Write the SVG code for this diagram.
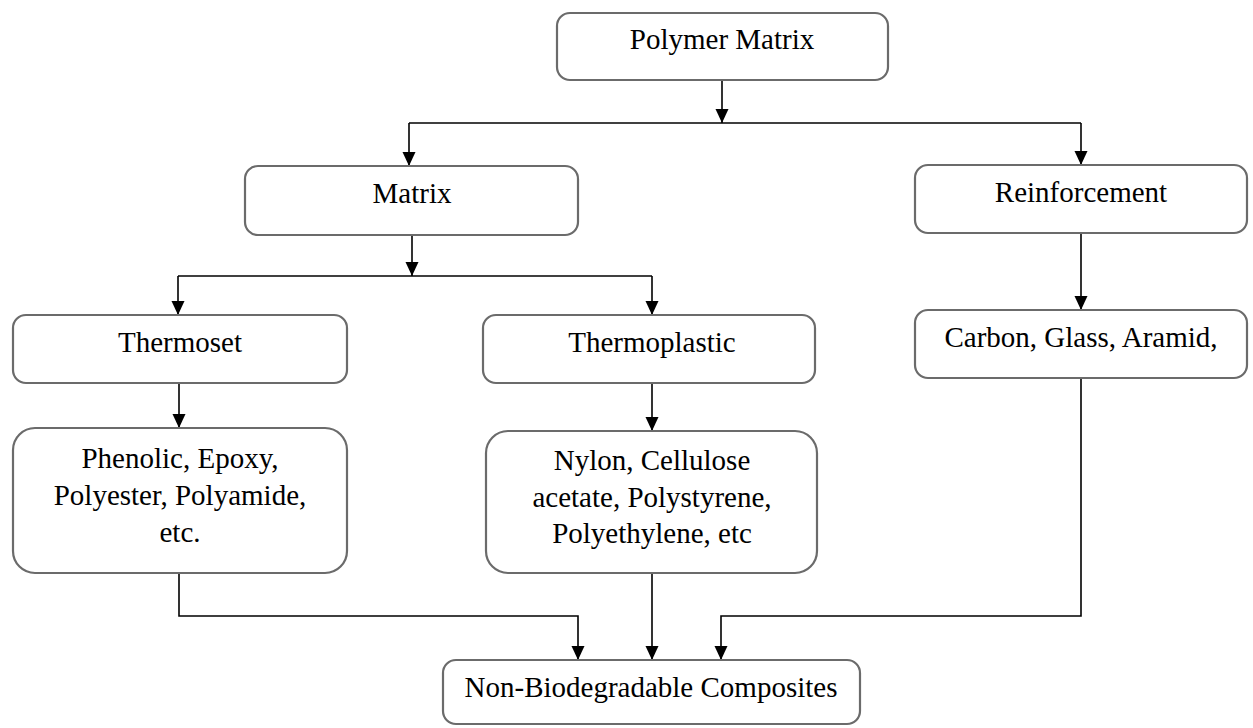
<svg xmlns="http://www.w3.org/2000/svg" width="1253" height="728" viewBox="0 0 1253 728">
  <style>
    .box { fill: #ffffff; stroke: #6b6b6b; stroke-width: 2.2; }
    .lbl { font-family: "Liberation Serif", "Times New Roman", serif; font-size: 29px; fill: #000; text-anchor: middle; }
    .wire { fill: none; stroke: #000; stroke-width: 1.6; }
  </style>
  <defs>
    <marker id="arrow" markerUnits="userSpaceOnUse" markerWidth="14" markerHeight="14" refX="14" refY="6.5" orient="auto">
      <path d="M0,0 L14,6.5 L0,13 z" fill="#000"/>
    </marker>
  </defs>
  <rect width="1253" height="728" fill="#ffffff"/>

  <g id="connectors">
    <!-- Polymer Matrix split -->
    <line class="wire" x1="722" y1="80" x2="722" y2="123" marker-end="url(#arrow)"/>
    <polyline class="wire" points="409,123 1081,123"/>
    <line class="wire" x1="409" y1="123" x2="409" y2="166" marker-end="url(#arrow)"/>
    <line class="wire" x1="1081" y1="123" x2="1081" y2="165" marker-end="url(#arrow)"/>
    <!-- Matrix split -->
    <line class="wire" x1="412" y1="235" x2="412" y2="276" marker-end="url(#arrow)"/>
    <polyline class="wire" points="178,276 652,276"/>
    <line class="wire" x1="178" y1="276" x2="178" y2="315" marker-end="url(#arrow)"/>
    <line class="wire" x1="652" y1="276" x2="652" y2="315" marker-end="url(#arrow)"/>
    <!-- Reinforcement to fibres -->
    <line class="wire" x1="1081" y1="233" x2="1081" y2="310" marker-end="url(#arrow)"/>
    <!-- Thermoset / Thermoplastic to examples -->
    <line class="wire" x1="179" y1="383" x2="179" y2="428" marker-end="url(#arrow)"/>
    <line class="wire" x1="652" y1="383" x2="652" y2="431" marker-end="url(#arrow)"/>
    <!-- Merge into composites -->
    <polyline class="wire" points="179,573 179,616 578,616 578,660" marker-end="url(#arrow)"/>
    <line class="wire" x1="652" y1="573" x2="652" y2="660" marker-end="url(#arrow)"/>
    <polyline class="wire" points="1081,378 1081,616 721,616 721,660" marker-end="url(#arrow)"/>
  </g>

  <g id="polymer-matrix">
    <rect class="box" x="557" y="13" width="331" height="67" rx="13"/>
    <text class="lbl" x="722" y="49">Polymer Matrix</text>
  </g>
  <g id="matrix">
    <rect class="box" x="245" y="166" width="333" height="69" rx="13"/>
    <text class="lbl" x="412" y="203">Matrix</text>
  </g>
  <g id="reinforcement">
    <rect class="box" x="915" y="165" width="332" height="68" rx="13"/>
    <text class="lbl" x="1081" y="202">Reinforcement</text>
  </g>
  <g id="thermoset">
    <rect class="box" x="13" y="315" width="334" height="68" rx="13"/>
    <text class="lbl" x="180" y="352">Thermoset</text>
  </g>
  <g id="thermoplastic">
    <rect class="box" x="483" y="315" width="332" height="68" rx="13"/>
    <text class="lbl" x="652" y="352">Thermoplastic</text>
  </g>
  <g id="fibres">
    <rect class="box" x="915" y="310" width="332" height="68" rx="13"/>
    <text class="lbl" x="1081" y="347">Carbon, Glass, Aramid,</text>
  </g>
  <g id="thermoset-examples">
    <rect class="box" x="13" y="428" width="334" height="145" rx="22"/>
    <text class="lbl" x="180" y="468">Phenolic, Epoxy,</text>
    <text class="lbl" x="180" y="505">Polyester, Polyamide,</text>
    <text class="lbl" x="180" y="542">etc.</text>
  </g>
  <g id="thermoplastic-examples">
    <rect class="box" x="486" y="431" width="331" height="142" rx="22"/>
    <text class="lbl" x="652" y="470">Nylon, Cellulose</text>
    <text class="lbl" x="652" y="507">acetate, Polystyrene,</text>
    <text class="lbl" x="652" y="543">Polyethylene, etc</text>
  </g>
  <g id="non-biodegradable">
    <rect class="box" x="443" y="660" width="417" height="64" rx="13"/>
    <text class="lbl" x="651" y="697">Non-Biodegradable Composites</text>
  </g>
</svg>
